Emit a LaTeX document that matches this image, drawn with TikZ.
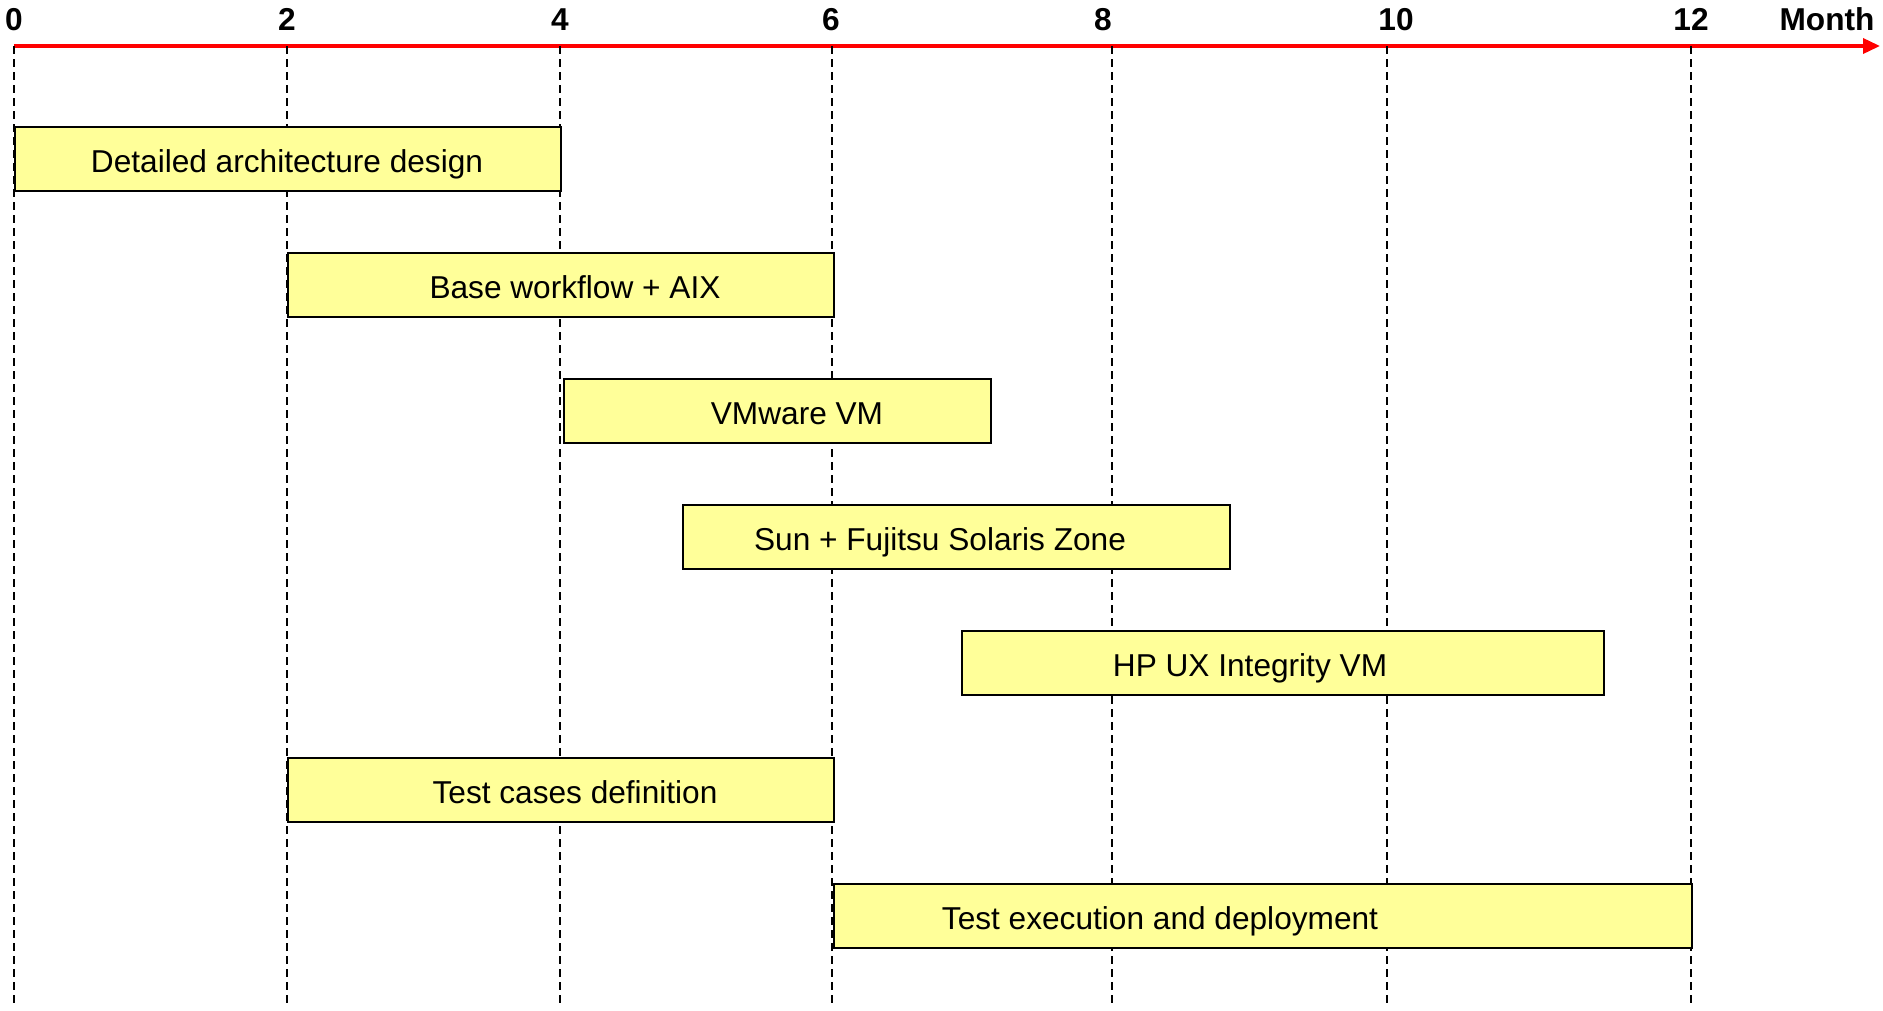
\documentclass[tikz,border=0pt]{standalone}
\usepackage{fontspec}
\setmainfont{Liberation Sans}
\usetikzlibrary{arrows.meta, positioning}
\definecolor{taskyellow}{RGB}{255,255,153}

\begin{document}
\begin{tikzpicture}[task/.style={rectangle, draw, fill=taskyellow, line width=0.5pt, minimum height=0.64cm, inner sep=0pt, anchor=north west}, task text/.style={font=\fontsize{9}{11}\selectfont, inner sep=0pt, anchor=base}, month label/.style={font=\fontsize{9}{11}\selectfont\bfseries, inner sep=0pt, anchor=base}, grid line/.style={line width=0.6pt, dash pattern=on 0.08cm off 0.05cm}]
\useasboundingbox (0,0) rectangle (18.83,-10.10);
% time axis
\coordinate (axis start) at (0.14,-0.46);
\coordinate (axis end) at (18.80,-0.46);
\draw[red, line width=1pt, -{Triangle[length=0.17cm, width=0.15cm]}] (axis start) -- (axis end);
\foreach \m/\x/\lx in {0/0.14/0.14, 2/2.87/2.87, 4/5.60/5.60, 6/8.32/8.31, 8/11.12/11.03, 10/13.87/13.96, 12/16.91/16.91}{
    \coordinate (g\m) at (\x,-0.46);
    \coordinate (e\m) at (\x,-10.08);
    \draw[grid line] (g\m) -- (e\m);
    \node[month label] (m\m) at (\lx,-0.30) {\m};}
\node[month label] (month) at (18.27,-0.30) {Month};
% tasks
\foreach \n/\x/\y/\w/\tx/\txt in {design/0.14/-1.26/5.46/2.87/Detailed architecture design, aix/2.87/-2.52/5.46/5.75/Base workflow + AIX, vmware/5.63/-3.78/4.27/7.97/VMware VM, solaris/6.82/-5.04/5.47/9.40/Sun + Fujitsu Solaris Zone, hpux/9.61/-6.30/6.42/12.50/HP UX Integrity VM, testdef/2.87/-7.57/5.46/5.75/Test cases definition, deploy/8.33/-8.83/8.58/11.60/Test execution and deployment}{
    \node[task, minimum width=\w cm] (\n) at (\x,\y) {};
    \node[task text] (\n-t) at (\tx,\y-0.46) {\txt};}
\end{tikzpicture}
\end{document}
